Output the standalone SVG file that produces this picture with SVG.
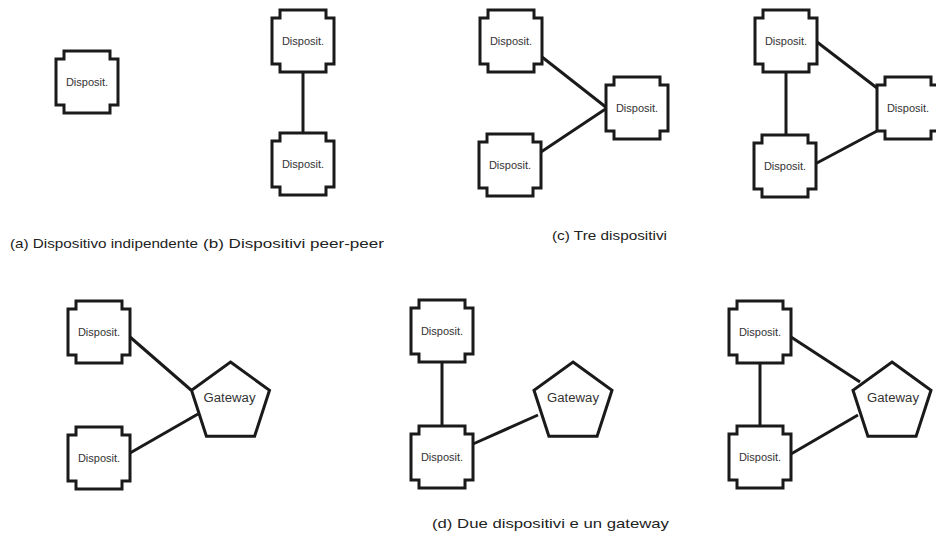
<svg xmlns="http://www.w3.org/2000/svg" xmlns:xlink="http://www.w3.org/1999/xlink" width="936" height="537" viewBox="0 0 936 537">
  <style>
    .shape { fill: #ffffff; stroke: #1a1a1a; stroke-width: 3; stroke-linejoin: miter; }
    .link { stroke: #1a1a1a; stroke-width: 3; fill: none; stroke-linecap: butt; }
    .lbl { font-family: "Liberation Sans", Arial, sans-serif; font-size: 11px; fill: #333333; text-anchor: middle; }
    .gw { font-family: "Liberation Sans", Arial, sans-serif; font-size: 12.5px; fill: #333333; text-anchor: middle; }
    .cap { font-family: "Liberation Sans", Arial, sans-serif; font-size: 13.5px; fill: #222222; }
  </style>
  <defs>
    <!-- notched device outline, centred on 0,0 -->
    <path id="dev" d="M -23,-31 H 23 V -23 H 31 V 23 H 23 V 31 H -23 V 23 H -31 V -23 H -23 Z"/>
    <!-- regular pentagon, circumradius 41 -->
    <polygon id="gate" points="0,-41 39,-12.7 24.1,33.2 -24.1,33.2 -39,-12.7"/>
  </defs>

  <rect x="0" y="0" width="936" height="537" fill="#ffffff"/>

  <!-- connectors -->
  <g id="connectors">
    <line class="link" x1="303" y1="72" x2="303" y2="133"/>
    <line class="link" x1="542" y1="57" x2="607" y2="108"/>
    <line class="link" x1="541" y1="152" x2="607" y2="108"/>
    <line class="link" x1="817" y1="42" x2="877" y2="88"/>
    <line class="link" x1="786" y1="72" x2="786" y2="135"/>
    <line class="link" x1="815" y1="164" x2="877" y2="131"/>
    <line class="link" x1="130" y1="337" x2="191" y2="390"/>
    <line class="link" x1="130" y1="453" x2="198" y2="414"/>
    <line class="link" x1="442" y1="362" x2="442" y2="426"/>
    <line class="link" x1="473" y1="444" x2="538" y2="415"/>
    <line class="link" x1="791" y1="337" x2="860" y2="382"/>
    <line class="link" x1="760" y1="363" x2="760" y2="426"/>
    <line class="link" x1="791" y1="454" x2="858" y2="415"/>
  </g>

  <!-- (a) -->
  <g id="a-dev" transform="translate(87,82)"><use xlink:href="#dev" class="shape"/><text class="lbl" x="0" y="4">Disposit.</text></g>

  <!-- (b) -->
  <g id="b-dev1" transform="translate(303,41)"><use xlink:href="#dev" class="shape"/><text class="lbl" x="0" y="4">Disposit.</text></g>
  <g id="b-dev2" transform="translate(303,164)"><use xlink:href="#dev" class="shape"/><text class="lbl" x="0" y="4">Disposit.</text></g>

  <!-- (c) star -->
  <g id="c1-dev1" transform="translate(511,41)"><use xlink:href="#dev" class="shape"/><text class="lbl" x="0" y="4">Disposit.</text></g>
  <g id="c1-dev2" transform="translate(510,165)"><use xlink:href="#dev" class="shape"/><text class="lbl" x="0" y="4">Disposit.</text></g>
  <g id="c1-dev3" transform="translate(637,108)"><use xlink:href="#dev" class="shape"/><text class="lbl" x="0" y="4">Disposit.</text></g>

  <!-- (c) mesh -->
  <g id="c2-dev1" transform="translate(786,41)"><use xlink:href="#dev" class="shape"/><text class="lbl" x="0" y="4">Disposit.</text></g>
  <g id="c2-dev2" transform="translate(785,166)"><use xlink:href="#dev" class="shape"/><text class="lbl" x="0" y="4">Disposit.</text></g>
  <g id="c2-dev3" transform="translate(908,108)"><use xlink:href="#dev" class="shape"/><text class="lbl" x="0" y="4">Disposit.</text></g>

  <!-- (d) first -->
  <g id="d1-dev1" transform="translate(99,332)"><use xlink:href="#dev" class="shape"/><text class="lbl" x="0" y="4">Disposit.</text></g>
  <g id="d1-dev2" transform="translate(99,458)"><use xlink:href="#dev" class="shape"/><text class="lbl" x="0" y="4">Disposit.</text></g>
  <g id="d1-gw" transform="translate(230.5,403)"><use xlink:href="#gate" class="shape"/><text class="gw" x="-1" y="-1" textLength="52" lengthAdjust="spacingAndGlyphs">Gateway</text></g>

  <!-- (d) second -->
  <g id="d2-dev1" transform="translate(442,331)"><use xlink:href="#dev" class="shape"/><text class="lbl" x="0" y="4">Disposit.</text></g>
  <g id="d2-dev2" transform="translate(442,457)"><use xlink:href="#dev" class="shape"/><text class="lbl" x="0" y="4">Disposit.</text></g>
  <g id="d2-gw" transform="translate(573,403)"><use xlink:href="#gate" class="shape"/><text class="gw" x="0" y="-1" textLength="52" lengthAdjust="spacingAndGlyphs">Gateway</text></g>

  <!-- (d) third -->
  <g id="d3-dev1" transform="translate(760,332)"><use xlink:href="#dev" class="shape"/><text class="lbl" x="0" y="4">Disposit.</text></g>
  <g id="d3-dev2" transform="translate(760,457)"><use xlink:href="#dev" class="shape"/><text class="lbl" x="0" y="4">Disposit.</text></g>
  <g id="d3-gw" transform="translate(892,403)"><use xlink:href="#gate" class="shape"/><text class="gw" x="1" y="-1" textLength="52" lengthAdjust="spacingAndGlyphs">Gateway</text></g>

  <!-- captions -->
  <text class="cap" x="10" y="248" textLength="188" lengthAdjust="spacingAndGlyphs">(a) Dispositivo indipendente</text>
  <text class="cap" x="203" y="248" textLength="181" lengthAdjust="spacingAndGlyphs">(b) Dispositivi peer-peer</text>
  <text class="cap" x="552" y="240" textLength="115" lengthAdjust="spacingAndGlyphs">(c) Tre dispositivi</text>
  <text class="cap" x="432" y="528" textLength="237" lengthAdjust="spacingAndGlyphs">(d) Due dispositivi e un gateway</text>
</svg>
